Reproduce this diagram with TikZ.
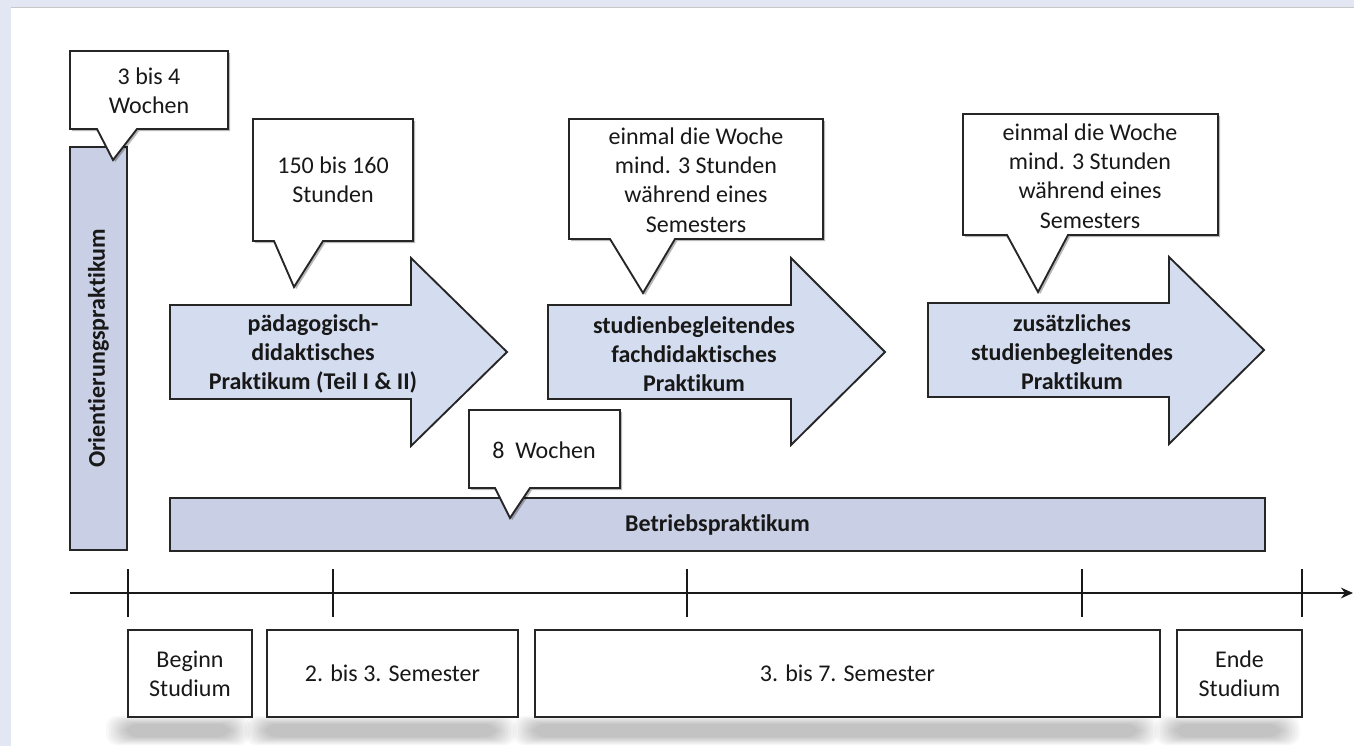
\documentclass[tikz,border=0pt]{standalone}
\usepackage{fontspec}
\setmainfont{Carlito}[Ligatures=NoCommon]
\usetikzlibrary{arrows.meta,shadows}

\definecolor{pagebg}{RGB}{227,230,243}
\definecolor{barfill}{RGB}{201,207,228}
\definecolor{arrowfill}{RGB}{212,220,239}
\definecolor{edge}{RGB}{38,38,38}
\definecolor{ink}{RGB}{24,24,24}

\begin{document}
\begin{tikzpicture}[x=0.75pt,y=-0.75pt,
  txt/.style={font=\fontsize{18}{22}\selectfont, text=ink, align=center, inner sep=0pt},
  boldtxt/.style={txt, font=\fontsize{18}{22}\selectfont\bfseries},
  bar/.style={draw=edge, line width=1.4pt, fill=barfill, inner sep=0pt,
    font=\fontsize{18}{22}\selectfont\bfseries, text=ink},
  arrowshape/.style={draw=edge, line width=1.4pt, fill=arrowfill, line join=miter},
  callbox/.style={draw=edge, line width=1.4pt, fill=white, line join=miter,
    drop shadow={shadow xshift=1.6pt, shadow yshift=-1.6pt, opacity=0.28, fill=black}},
  period/.style={draw=edge, line width=1.3pt, fill=white, inner sep=0pt,
    font=\fontsize{18}{22}\selectfont, text=ink, align=center},
  axis/.style={draw=black!90, line width=2pt, -{Stealth[length=9pt,width=8pt]}},
  tick/.style={draw=black!90, line width=1.6pt}
]
\useasboundingbox (0,0) rectangle (1354,746);

% page background with white panel
\fill[pagebg] (0,0) rectangle (1354,746);
\fill[white] (11,8) rectangle (1354,746);
\draw[line width=0.8pt, black!22] (11,7.6) -- (1354,7.6);

% soft shadows below the period boxes
\foreach \a/\b in {128/252, 267/518, 535/1160, 1177/1302}{
  \foreach \i in {0,...,8}{
    \fill[black, opacity=0.026, rounded corners=8pt]
      (\a-22+2.5*\i, 716+\i) rectangle (\b-2-2.5*\i, 745-\i);
  }
}

% bars
\node[bar, minimum width=302.25pt, minimum height=42.75pt, rotate=90]
  (orient) at (98.5,348.5) {Orientierungspraktikum};
\node[bar, minimum width=821.25pt, minimum height=39.75pt]
  (betrieb) at (717.5,524.5) {Betriebspraktikum};

% block arrows
\draw[arrowshape] (170,305) -- (411,305) -- (411,258) -- (507,352)
  -- (411,446) -- (411,399) -- (170,399) -- cycle;
\node[boldtxt] (paed) at (313,354) {pädagogisch-\\didaktisches\\Praktikum (Teil I \& II)};

\draw[arrowshape] (548,305) -- (791,305) -- (791,258) -- (885,352)
  -- (791,445) -- (791,399) -- (548,399) -- cycle;
\node[boldtxt] (fach) at (694,354) {studienbegleitendes\\fachdidaktisches\\Praktikum};

\draw[arrowshape] (928,303) -- (1169,303) -- (1169,257) -- (1264,350)
  -- (1169,444) -- (1169,397) -- (928,397) -- cycle;
\node[boldtxt] (zus) at (1072,352) {zusätzliches\\studienbegleitendes\\Praktikum};

% callouts
\draw[callbox] (70,51) -- (228,51) -- (228,129) -- (137,129) -- (113,160)
  -- (97,129) -- (70,129) -- cycle;
\node[txt] (dauerA) at (149,91) {3 bis 4\\Wochen};

\draw[callbox] (253,119) -- (413,119) -- (413,241) -- (323,241) -- (294,287)
  -- (274,241) -- (253,241) -- cycle;
\node[txt] (dauerB) at (333,180) {150 bis 160\\Stunden};

\draw[callbox] (569,119) -- (823,119) -- (823,239) -- (675,239) -- (643,293)
  -- (610,239) -- (569,239) -- cycle;
\node[txt] (dauerC) at (696,180) {einmal die Woche\\mind. 3 Stunden\\während eines\\Semesters};

\draw[callbox] (963,114) -- (1218,114) -- (1218,235) -- (1068,235) -- (1038,292)
  -- (1007,235) -- (963,235) -- cycle;
\node[txt] (dauerD) at (1090,176) {einmal die Woche\\mind. 3 Stunden\\während eines\\Semesters};

\draw[callbox] (469,410) -- (620,410) -- (620,488) -- (530,488) -- (510,518)
  -- (495,488) -- (469,488) -- cycle;
\node[txt] (dauerE) at (544,450) {8\ \ Wochen};

% time axis
\coordinate (axL) at (70,593);
\coordinate (axR) at (1353,593);
\draw[axis] (axL) -- (axR);
\foreach \x/\n in {128/tA, 333/tB, 687/tC, 1082/tD, 1302/tE}{
  \coordinate (\n top) at (\x,569);
  \coordinate (\n bot) at (\x,617);
  \draw[tick] (\n top) -- (\n bot);
}

% period boxes
\node[period, minimum width=93pt, minimum height=65.25pt]
  (beginn) at (190,673.5) {Beginn\\Studium};
\node[period, minimum width=188.25pt, minimum height=65.25pt]
  (semA) at (392.5,673.5) {2. bis 3. Semester};
\node[period, minimum width=468.75pt, minimum height=65.25pt]
  (semB) at (847.5,673.5) {3. bis 7. Semester};
\node[period, minimum width=93.75pt, minimum height=65.25pt]
  (ende) at (1239.5,673.5) {Ende\\Studium};
\end{tikzpicture}
\end{document}
